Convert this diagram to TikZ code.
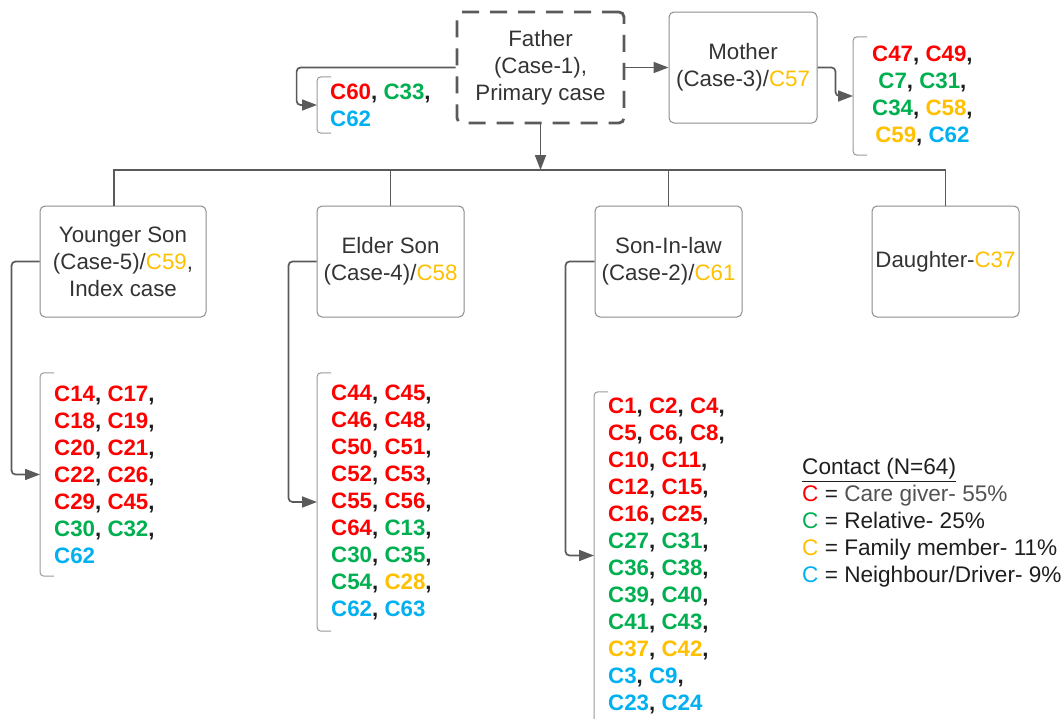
\documentclass[tikz,border=0pt]{standalone}
\usepackage{fontspec}
\setmainfont{Liberation Sans}
\usetikzlibrary{arrows.meta}
\definecolor{cred}{HTML}{FF0000}
\definecolor{cgreen}{HTML}{00B050}
\definecolor{cyel}{HTML}{FFC000}
\definecolor{cblue}{HTML}{00B0F0}
\definecolor{boxtext}{HTML}{333333}
\definecolor{boxline}{HTML}{8C8C8C}
\definecolor{conncol}{HTML}{5A5A5A}
\definecolor{brackcol}{HTML}{9A9A9A}
\definecolor{legtext}{HTML}{1E1E1E}
\newcommand{\kR}[1]{\textcolor{cred}{#1}}
\newcommand{\kG}[1]{\textcolor{cgreen}{#1}}
\newcommand{\kY}[1]{\textcolor{cyel}{#1}}
\newcommand{\kB}[1]{\textcolor{cblue}{#1}}
\tikzset{
  base/.style={font=\fontsize{22.3}{27}\selectfont},
  famebox/.style={base, draw=boxline, line width=1pt, rounded corners=5pt, align=center, text=boxtext, inner sep=0pt},
  fatherbox/.style={famebox, draw=conncol, line width=2.8pt, dash pattern=on 17pt off 11pt},
  clist/.style={base, font=\fontsize{22.3}{27}\selectfont\bfseries, text=legtext, align=left, inner ysep=0pt, anchor=west},
  bracketline/.style={draw=brackcol, line width=1pt, rounded corners=4pt},
  tree/.style={draw=conncol, line width=1.7pt},
  arr/.style={tree, rounded corners=4pt, -{Triangle[length=15pt,width=11pt]}},
}
\newcommand{\mkbracket}[1]{\draw[bracketline] ([xshift=14pt]#1.north west) -- (#1.north west) -- (#1.south west) -- ([xshift=14pt]#1.south west);}
\begin{document}
\begin{tikzpicture}[x=1pt,y=-1pt]
\useasboundingbox (0,0) rectangle (1063,718);

% top row
\node[fatherbox, minimum width=167pt, minimum height=111pt] (F) at (540.5,67.5) {Father\\(Case-1),\\Primary case};
\node[famebox, minimum width=148pt, minimum height=111pt] (M) at (743,67.5) {Mother\\(Case-3)/\kY{C57}};

% second row
\node[famebox, minimum width=166pt, minimum height=111pt] (YS) at (123,261.5) {Younger Son\\(Case-5)/\kY{C59},\\Index case};
\node[famebox, minimum width=147pt, minimum height=111pt] (ES) at (390.5,261.5) {Elder Son\\(Case-4)/\kY{C58}};
\node[famebox, minimum width=147pt, minimum height=111pt] (SL) at (668.5,261.5) {Son-In-law\\(Case-2)/\kY{C61}};
\node[famebox, minimum width=147pt, minimum height=111pt] (DA) at (945.5,261.5) {Daughter-\kY{C37}};

% contact lists
\node[clist, inner xsep=13pt, minimum height=56pt] (L60) at (317,105) {\kR{C60}, \kG{C33},\\\kB{C62}};
\node[clist, align=center, inner xsep=19pt, minimum height=118pt] (LM) at (853,96) {\kR{C47}, \kR{C49},\\\kG{C7}, \kG{C31},\\\kG{C34}, \kY{C58},\\\kY{C59}, \kB{C62}};
\node[clist, inner xsep=14pt, minimum height=203pt] (LY) at (40,474.5) {\kR{C14}, \kR{C17},\\\kR{C18}, \kR{C19},\\\kR{C20}, \kR{C21},\\\kR{C22}, \kR{C26},\\\kR{C29}, \kR{C45},\\\kG{C30}, \kG{C32},\\\kB{C62}};
\node[clist, inner xsep=14pt, minimum height=258pt] (LE) at (317,502) {\kR{C44}, \kR{C45},\\\kR{C46}, \kR{C48},\\\kR{C50}, \kR{C51},\\\kR{C52}, \kR{C53},\\\kR{C55}, \kR{C56},\\\kR{C64}, \kG{C13},\\\kG{C30}, \kG{C35},\\\kG{C54}, \kY{C28},\\\kB{C62}, \kB{C63}};
\node[clist, inner xsep=14pt, minimum height=327pt] (LS) at (594,555.5) {\kR{C1}, \kR{C2}, \kR{C4},\\\kR{C5}, \kR{C6}, \kR{C8},\\\kR{C10}, \kR{C11},\\\kR{C12}, \kR{C15},\\\kR{C16}, \kR{C25},\\\kG{C27}, \kG{C31},\\\kG{C36}, \kG{C38},\\\kG{C39}, \kG{C40},\\\kG{C41}, \kG{C43},\\\kY{C37}, \kY{C42},\\\kB{C3}, \kB{C9},\\\kB{C23}, \kB{C24}};

% brackets
\mkbracket{L60}
\mkbracket{LM}
\mkbracket{LY}
\mkbracket{LE}
\draw[bracketline] ([xshift=14pt]LS.north west) -- (LS.north west) -- (LS.south west);

% legend
\node[font=\fontsize{22.6}{27}\selectfont, anchor=west, align=left, inner sep=0pt, text=legtext] (LEG) at (802,523) {\underline{Contact (N=64)}\\\kR{C} = \textcolor{boxtext!85}{Care giver- 55\%}\\\kG{C} = Relative- 25\%\\\kY{C} = Family member- 11\%\\\kB{C} = Neighbour/Driver- 9\%};

% tree connectors
\coordinate (hL) at (114,170);
\coordinate (hR) at (945.5,170);
\draw[tree] (hL |- YS.north) -- (hL) -- (hR) -- (DA.north);
\draw[tree] (ES.north) -- (ES.north |- hL);
\draw[tree] (SL.north) -- (SL.north |- hL);
\draw[arr, rounded corners=0pt] (F.south) -- (F.south |- hL);
\draw[arr] (F.east) -- (M.west);

% elbow arrows to lists
\draw[arr] (F.west) -- ++(-159,0) |- (L60.west);
\draw[arr] (M.east) -- ++(18,0) |- (LM.west);
\draw[arr] (YS.west) -- ++(-28,0) |- (LY.west);
\draw[arr] (ES.west) -- ++(-28,0) |- (LE.west);
\draw[arr] (SL.west) -- ++(-29,0) |- (LS.west);
\end{tikzpicture}
\end{document}
